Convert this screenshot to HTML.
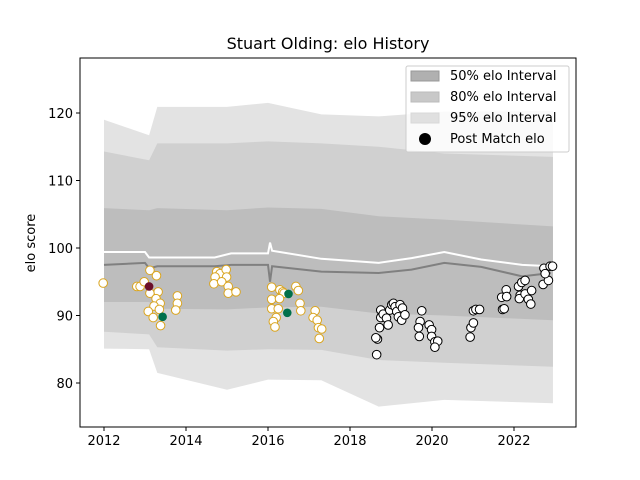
<!DOCTYPE html>
<html><head><meta charset="utf-8"><style>
body{margin:0;background:#fff}
svg{display:block;font-family:"DejaVu Sans","Liberation Sans",sans-serif}
</style></head><body>
<svg id="c" width="640" height="480" viewBox="0 0 640 480"></svg>
<script>
const bandDates=[2012.0,2013.1,2013.3,2015.0,2016.0,2017.3,2018.7,2020.3,2022.95];
const hi95=[119.0,116.7,120.9,120.9,121.5,119.8,119.5,120.2,120.3];
const hi80=[114.3,113.0,115.5,115.5,115.8,115.5,115.0,114.0,113.5];
const hi50=[105.9,105.6,105.9,105.6,106.0,105.8,104.7,104.2,103.2];
const lo50=[92.0,92.0,91.0,90.9,91.2,91.3,90.3,90.0,89.3];
const lo80=[87.6,87.2,85.3,84.8,85.0,84.9,83.4,83.0,82.4];
const lo95=[85.1,85.0,81.5,79.0,80.5,80.4,76.5,77.5,77.0];
const lineDates=[2012.0,2013.0,2013.1,2013.3,2014.7,2015.1,2016.0,2016.05,2016.1,2017.3,2018.7,2019.5,2020.3,2021.2,2022.2,2022.9];
const meanElo=[97.5,97.8,97.0,97.3,97.3,97.5,97.5,95.0,97.3,96.5,96.3,96.8,97.8,97.2,95.8,96.3];
const postElo=[99.4,99.4,98.6,98.6,98.6,99.2,99.2,100.8,99.6,98.4,97.8,98.5,99.4,98.3,97.5,97.3];
const matchDates=[2011.98,2013.12,2013.28,2012.80,2012.88,2012.98,2013.32,2013.12,2013.27,2013.37,2013.22,2013.08,2013.35,2013.20,2013.38,2013.79,2013.79,2013.75,
2014.75,2014.83,2014.98,2014.99,2014.71,2014.68,2014.87,2015.03,2015.03,2015.22,
2016.09,2016.29,2016.36,2016.39,2016.68,2016.74,2016.09,2016.28,2016.09,2016.25,2016.20,2016.13,2016.17,2016.78,2016.80,2017.15,2017.10,2017.20,2017.23,2017.31,2017.25,
2018.65,2018.67,2018.63,2018.72,2018.75,2018.75,2018.81,2018.89,2018.93,2018.97,2019.02,2019.06,2019.10,2019.14,2019.18,2019.22,2019.26,2019.28,2019.34,
2019.75,2019.71,2019.67,2019.69,2019.93,2019.99,2019.99,2020.07,2020.14,2020.07,2020.93,2020.95,2021.01,2021.01,2021.07,2021.16,
2021.72,2021.76,2021.70,2021.81,2021.82,2022.11,2022.19,2022.27,2022.15,2022.13,2022.27,2022.35,2022.43,2022.41,2022.71,2022.84,2022.73,2022.88,2022.94,2022.76];
const matchElo=[94.8,96.7,95.9,94.3,94.3,95.0,93.5,93.3,92.5,91.8,91.4,90.6,90.9,89.7,88.5,92.9,91.8,90.8,
96.5,96.2,96.8,95.7,95.7,94.7,95.0,94.3,93.3,93.5,
94.2,93.8,93.5,93.3,94.3,93.7,92.4,92.5,91.0,91.0,89.7,89.1,88.3,91.8,90.7,90.7,89.7,89.3,88.2,88.0,86.6,
84.2,86.5,86.7,88.2,89.7,90.8,90.2,89.6,88.6,90.8,91.6,91.8,91.3,90.6,89.8,91.6,89.3,91.1,90.1,
90.7,89.1,88.2,86.9,88.6,87.9,86.9,86.1,86.2,85.3,86.8,88.2,88.9,90.7,90.9,90.9,
90.9,91.0,92.7,93.8,92.8,94.3,94.9,95.2,93.0,92.5,93.2,92.4,93.7,91.7,94.6,95.2,97.0,97.3,97.3,96.2];
const special=[[2013.10,94.3,'#6b0f2a'],[2013.43,89.8,'#00704a'],[2016.50,93.2,'#00704a'],[2016.47,90.4,'#00704a']];
const xTicks=[2012,2014,2016,2018,2020,2022];
const yTicks=[80,90,100,110,120];

const NS='http://www.w3.org/2000/svg';
const svg=document.getElementById('c');
const L=80,R=576,T=58,B=427;
const X=v=>104+(v-2012)*41;
const Y=v=>383-(v-80)*6.75;
function mk(tag,a,p){const e=document.createElementNS(NS,tag);for(const k in a)e.setAttribute(k,a[k]);(p||svg).appendChild(e);return e;}
function band(hi,lo,fill,name){
  let d='M'+bandDates.map((t,i)=>X(t)+','+Y(hi[i])).join('L');
  for(let i=bandDates.length-1;i>=0;i--)d+='L'+X(bandDates[i])+','+Y(lo[i]);
  const p=mk('path',{d:d+'Z',fill:fill});
  
  
}
band(hi95,lo95,'#e3e3e3','band-95');
band(hi80,lo80,'#d0d0d0','band-80');
band(hi50,lo50,'#bdbdbd','band-50');
const ml=mk('polyline',{points:lineDates.map((t,i)=>X(t)+','+Y(meanElo[i])).join(' '),fill:'none',stroke:'#808080','stroke-width':2});


const pl=mk('polyline',{points:lineDates.map((t,i)=>X(t)+','+Y(postElo[i])).join(' '),fill:'none',stroke:'#fff','stroke-width':2});


matchDates.forEach((t,i)=>{
  const c=mk('circle',{cx:X(t),cy:Y(matchElo[i]),r:4.3,fill:'#fff',stroke:t<2018?'#daa520':'#000','stroke-width':1});
  
  
});
special.forEach(s=>{
  const c=mk('circle',{cx:X(s[0]),cy:Y(s[1]),r:4.3,fill:s[2]});
  
  
});
mk('rect',{x:L,y:T,width:R-L,height:B-T,fill:'none',stroke:'#000','stroke-width':1});
xTicks.forEach(t=>{
  mk('line',{x1:X(t),x2:X(t),y1:B,y2:B+4,stroke:'#000'});
  const tx=mk('text',{x:X(t),y:B+18,'text-anchor':'middle','font-size':13});
  tx.textContent=t;
  
  
});
yTicks.forEach(t=>{
  mk('line',{x1:L-4,x2:L,y1:Y(t),y2:Y(t),stroke:'#000'});
  const tx=mk('text',{x:L-7,y:Y(t)+5,'text-anchor':'end','font-size':13});
  tx.textContent=t;
  
  
});
</script>
<div style="position:absolute;left:0;top:0;width:640px;height:480px;pointer-events:none">
<svg width="640" height="480">
<text x="328" y="49" text-anchor="middle" font-size="16">Stuart Olding: elo History</text>
<text x="35" y="243" text-anchor="middle" font-size="13" transform="rotate(-90 35 243)">elo score</text>
<g>
<rect x="406" y="66" width="163" height="86" rx="2" fill="#fff" fill-opacity="0.8" stroke="#ccc"/>
<rect x="411" y="71" width="28" height="10" fill="#b0b0b0" stroke="#999"/>
<text x="450" y="80" font-size="13">50% elo Interval</text>
<rect x="411" y="92" width="28" height="10" fill="#c8c8c8" stroke="#bbb"/>
<text x="450" y="101" font-size="13">80% elo Interval</text>
<rect x="411" y="113" width="28" height="10" fill="#e0e0e0" stroke="#d8d8d8"/>
<text x="450" y="122" font-size="13">95% elo Interval</text>
<circle cx="425" cy="139" r="6" fill="#000"/>
<text x="450" y="143" font-size="13">Post Match elo</text>
</g>
</svg></div>
</body></html>
